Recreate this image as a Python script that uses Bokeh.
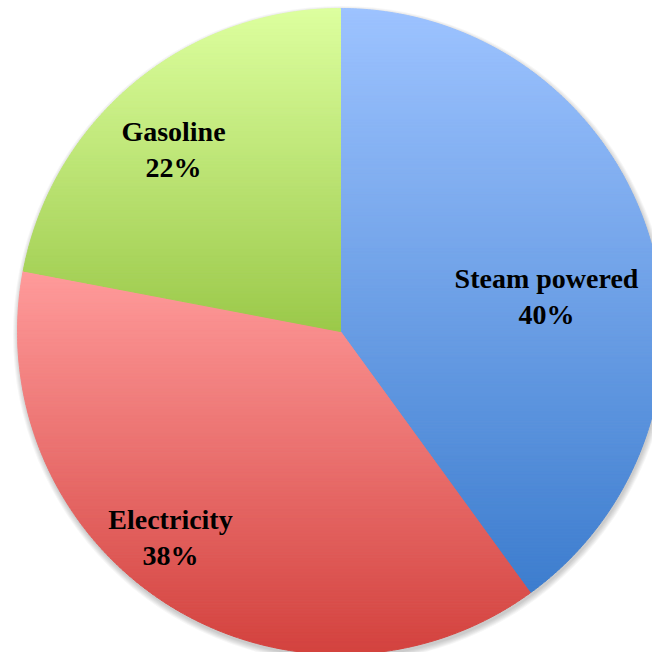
import math

from bokeh.core.properties import value
from bokeh.embed import file_html
from bokeh.models import ColumnDataSource, Range1d
from bokeh.plotting import figure
from bokeh.resources import INLINE

# --- data -------------------------------------------------------------
categories = ["Steam powered", "Electricity", "Gasoline"]
shares = [40, 38, 22]                      # percent
top_colors = ["#9DC3FF", "#FF9B9B", "#DDFF9F"]
bottom_colors = ["#3D7DCE", "#D3423E", "#9BC94A"]

# --- layout (pixels; y grows downward) --------------------------------
W = H = 652
CX, CY, R = 340, 331, 323
# label anchor offsets from the pie centre (name line baseline)
label_offsets = [(206, -53), (-170, 188), (-167, -200)]
LINE_GAP = 36
FONT = "Liberation Serif"
FONT_SIZE = "28px"


def hex_to_rgb(h):
    h = h.lstrip("#")
    return tuple(int(h[i:i + 2], 16) for i in (0, 2, 4))


def mix(c0, c1, t):
    a, b = hex_to_rgb(c0), hex_to_rgb(c1)
    return "#%02x%02x%02x" % tuple(round(a[i] + (b[i] - a[i]) * t) for i in range(3))


def clip_half(poly, y0, keep_above):
    """Clip a polygon against a horizontal line (Sutherland-Hodgman)."""
    out = []
    n = len(poly)
    inside = (lambda p: p[1] >= y0) if keep_above else (lambda p: p[1] <= y0)
    for i in range(n):
        cur, nxt = poly[i], poly[(i + 1) % n]
        ci, ni = inside(cur), inside(nxt)
        if ci:
            out.append(cur)
        if ci != ni:
            t = (y0 - cur[1]) / (nxt[1] - cur[1])
            out.append((cur[0] + t * (nxt[0] - cur[0]), y0))
    return out


def wedge_polygon(a0, a1):
    """Wedge from angle a0 to a1 (degrees, clockwise from 12 o'clock)."""
    pts = [(CX, CY)]
    steps = max(2, int((a1 - a0) / 0.5))
    for k in range(steps + 1):
        a = math.radians(a0 + (a1 - a0) * k / steps)
        pts.append((CX + R * math.sin(a), CY - R * math.cos(a)))
    return pts


xs, ys, fills = [], [], []
total = sum(shares)
start = 0.0
for share, c_top, c_bot in zip(shares, top_colors, bottom_colors):
    sweep = 360.0 * share / total
    poly = wedge_polygon(start, start + sweep)
    start += sweep
    y_min = min(p[1] for p in poly)
    y_max = max(p[1] for p in poly)
    n_bands = max(1, int((y_max - y_min) / 3))
    for b in range(n_bands):
        y_lo = y_min + (y_max - y_min) * b / n_bands
        y_hi = y_min + (y_max - y_min) * (b + 1) / n_bands
        piece = clip_half(poly, y_lo, True)
        if len(piece) < 3:
            continue
        piece = clip_half(piece, y_hi, False)
        if len(piece) < 3:
            continue
        xs.append([p[0] for p in piece])
        ys.append([p[1] for p in piece])
        fills.append(mix(c_top, c_bot, (b + 0.5) / n_bands))

p = figure(width=W, height=H, output_backend="svg", toolbar_location=None,
           x_range=Range1d(0, W), y_range=Range1d(H, 0),
           min_border=0, min_border_left=0, min_border_right=0,
           min_border_top=0, min_border_bottom=0)
p.axis.visible = False
p.grid.visible = False
p.outline_line_color = None
p.background_fill_color = "white"
p.border_fill_color = "white"

# soft drop shadow under the pie
for k in range(6):
    p.circle(x=[CX + 1], y=[CY + 3], radius=R + 0.5 + k * 1.0,
             fill_color="black", fill_alpha=0.035, line_color=None)

band_src = ColumnDataSource(dict(xs=xs, ys=ys, color=fills))
p.patches("xs", "ys", source=band_src, fill_color="color", line_color="color",
          line_width=1)

# labels: category name and share, two centred lines
lx = [CX + dx for dx, _ in label_offsets]
ly = [CY + dy for _, dy in label_offsets]
lbl_src = ColumnDataSource(dict(
    x=lx, y=ly, y2=[v + LINE_GAP for v in ly],
    name=categories, pct=["%d%%" % s for s in shares]))
for ycol, tcol in (("y", "name"), ("y2", "pct")):
    p.text(x="x", y=ycol, text=tcol, source=lbl_src,
           text_font=value(FONT), text_font_style="bold",
           text_font_size=FONT_SIZE, text_color="black",
           text_align="center", text_baseline="alphabetic")

open("out.html", "w").write(file_html(p, INLINE))
